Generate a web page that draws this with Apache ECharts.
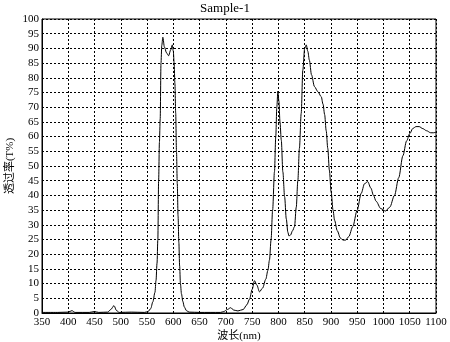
<!DOCTYPE html>
<html>
<head>
<meta charset="utf-8">
<script src="https://cdn.jsdelivr.net/npm/echarts@6/dist/echarts.min.js"></script>
<style>
  html, body { margin: 0; padding: 0; background: #fff; }
  #main { width: 450px; height: 342px; }
</style>
</head>
<body>
<div id="main"></div>
<script>
// 波长 (nm)
var wavelength = [
  350, 380, 400, 407, 413, 440, 450, 458, 475, 481, 487, 492, 497, 520, 545,
  552, 557, 561, 565, 567, 569, 570.5, 572, 573.5, 575, 576.5, 578, 580, 583,
  587, 591, 595, 598, 600, 601.5, 603, 604.5, 606, 607.5, 609, 610.5, 612,
  613.5, 615.5, 618, 621, 625, 630, 650, 690, 696, 703, 709, 715, 723, 733,
  740, 745, 750, 754.5, 759, 764, 770, 776, 780, 783, 786, 789, 792.5, 795,
  797, 799, 801, 803, 805.5, 808.5, 811.8, 815, 818, 820, 823, 827, 830.7,
  834, 837, 840, 843.4, 846.5, 850, 853, 856, 859, 863, 868.7, 875, 881.5,
  885, 888, 891, 894, 897, 900.5, 904, 907, 912, 918, 923, 928, 934, 941.6,
  950, 957.6, 964, 970, 976, 981, 986, 995, 1004, 1012, 1021, 1029, 1037,
  1044, 1050, 1056, 1062, 1068, 1075, 1082, 1090, 1095, 1100
]
// 透过率 (T%)
var transmit = [
  0.2, 0.2, 0.3, 0.8, 0.2, 0.2, 0.5, 0.2, 0.3, 1.2, 2.5, 0.8, 0.2, 0.3, 0.2,
  0.5, 1.5, 3.8, 7, 11, 17, 25, 45, 58, 66, 85, 91, 93.8, 90.5,
  88.5, 87.5, 89.5, 91.2, 89, 85, 78, 68, 55, 44, 33, 24, 16,
  10, 6.5, 4, 2, 0.8, 0.3, 0.2, 0.2, 0.5, 1.2, 1.8, 1.0, 0.7, 1.2,
  2.8, 4.7, 8, 11, 9.5, 7.2, 8.5, 11.5, 14.5, 18, 24.8, 35, 48, 60,
  70, 75.5, 72, 65, 58.8, 48, 39.6, 32, 27.5, 26.2, 26.5, 28, 29.4,
  36, 45, 56, 67.9, 82.6, 90, 91.2, 89, 86, 81, 77, 75.3, 73.6,
  71, 67.5, 62, 56, 48.6, 41, 35, 31.5, 28, 25.5, 24.8, 24.8, 26, 29.4,
  35, 40.7, 44, 44.7, 42.5, 40, 38, 35.5, 34.7, 36, 40, 46, 53.5,
  58.5, 61, 62.8, 63.4, 63.4, 62.7, 62, 61.3, 61.3, 61.5
]

var lineData = wavelength.map(function (w, i) { return [w, transmit[i]] })

var labelFont = { fontFamily: 'Liberation Serif, Noto Sans CJK SC', fontSize: 11, color: '#000' }
var gridLine = { show: true, lineStyle: { color: '#000', type: [2, 2], width: 1 } }

var chart = echarts.init(document.getElementById('main'), null, { renderer: 'canvas' })
chart.setOption({
  animation: false,
  backgroundColor: '#fff',
  title: {
    text: 'Sample-1',
    left: 'center',
    top: 2,
    padding: 0,
    textStyle: { fontFamily: 'Liberation Serif', fontSize: 13, fontWeight: 'normal', color: '#000' }
  },
  grid: {
    left: 42, right: 14, top: 19, bottom: 29,
    outerBoundsMode: 'none',
    containLabel: false,
    show: true, borderColor: '#000', borderWidth: 1, backgroundColor: '#fff'
  },
  xAxis: {
    type: 'value',
    min: 350, max: 1100, interval: 50,
    name: '波长(nm)',
    nameLocation: 'middle',
    nameGap: 18,
    nameMoveOverlap: false,
    nameTextStyle: labelFont,
    axisLine: { show: true, lineStyle: { color: '#000' } },
    axisTick: { show: false },
    axisLabel: Object.assign({ margin: 4, hideOverlap: false, formatter: function (v) { return String(v) } }, labelFont),
    splitLine: gridLine
  },
  yAxis: {
    type: 'value',
    min: 0, max: 100, interval: 5,
    name: '透过率(T%)',
    nameLocation: 'middle',
    nameRotate: 90,
    nameGap: 26,
    nameMoveOverlap: false,
    nameTextStyle: labelFont,
    axisLine: { show: true, lineStyle: { color: '#000' } },
    axisTick: { show: false },
    axisLabel: Object.assign({ margin: 3 }, labelFont),
    splitLine: gridLine
  },
  series: [{
    type: 'line',
    data: lineData,
    showSymbol: false,
    smooth: 0.3,
    smoothMonotone: 'x',
    lineStyle: { color: '#000', width: 1 }
  }]
})
</script>
</body>
</html>
